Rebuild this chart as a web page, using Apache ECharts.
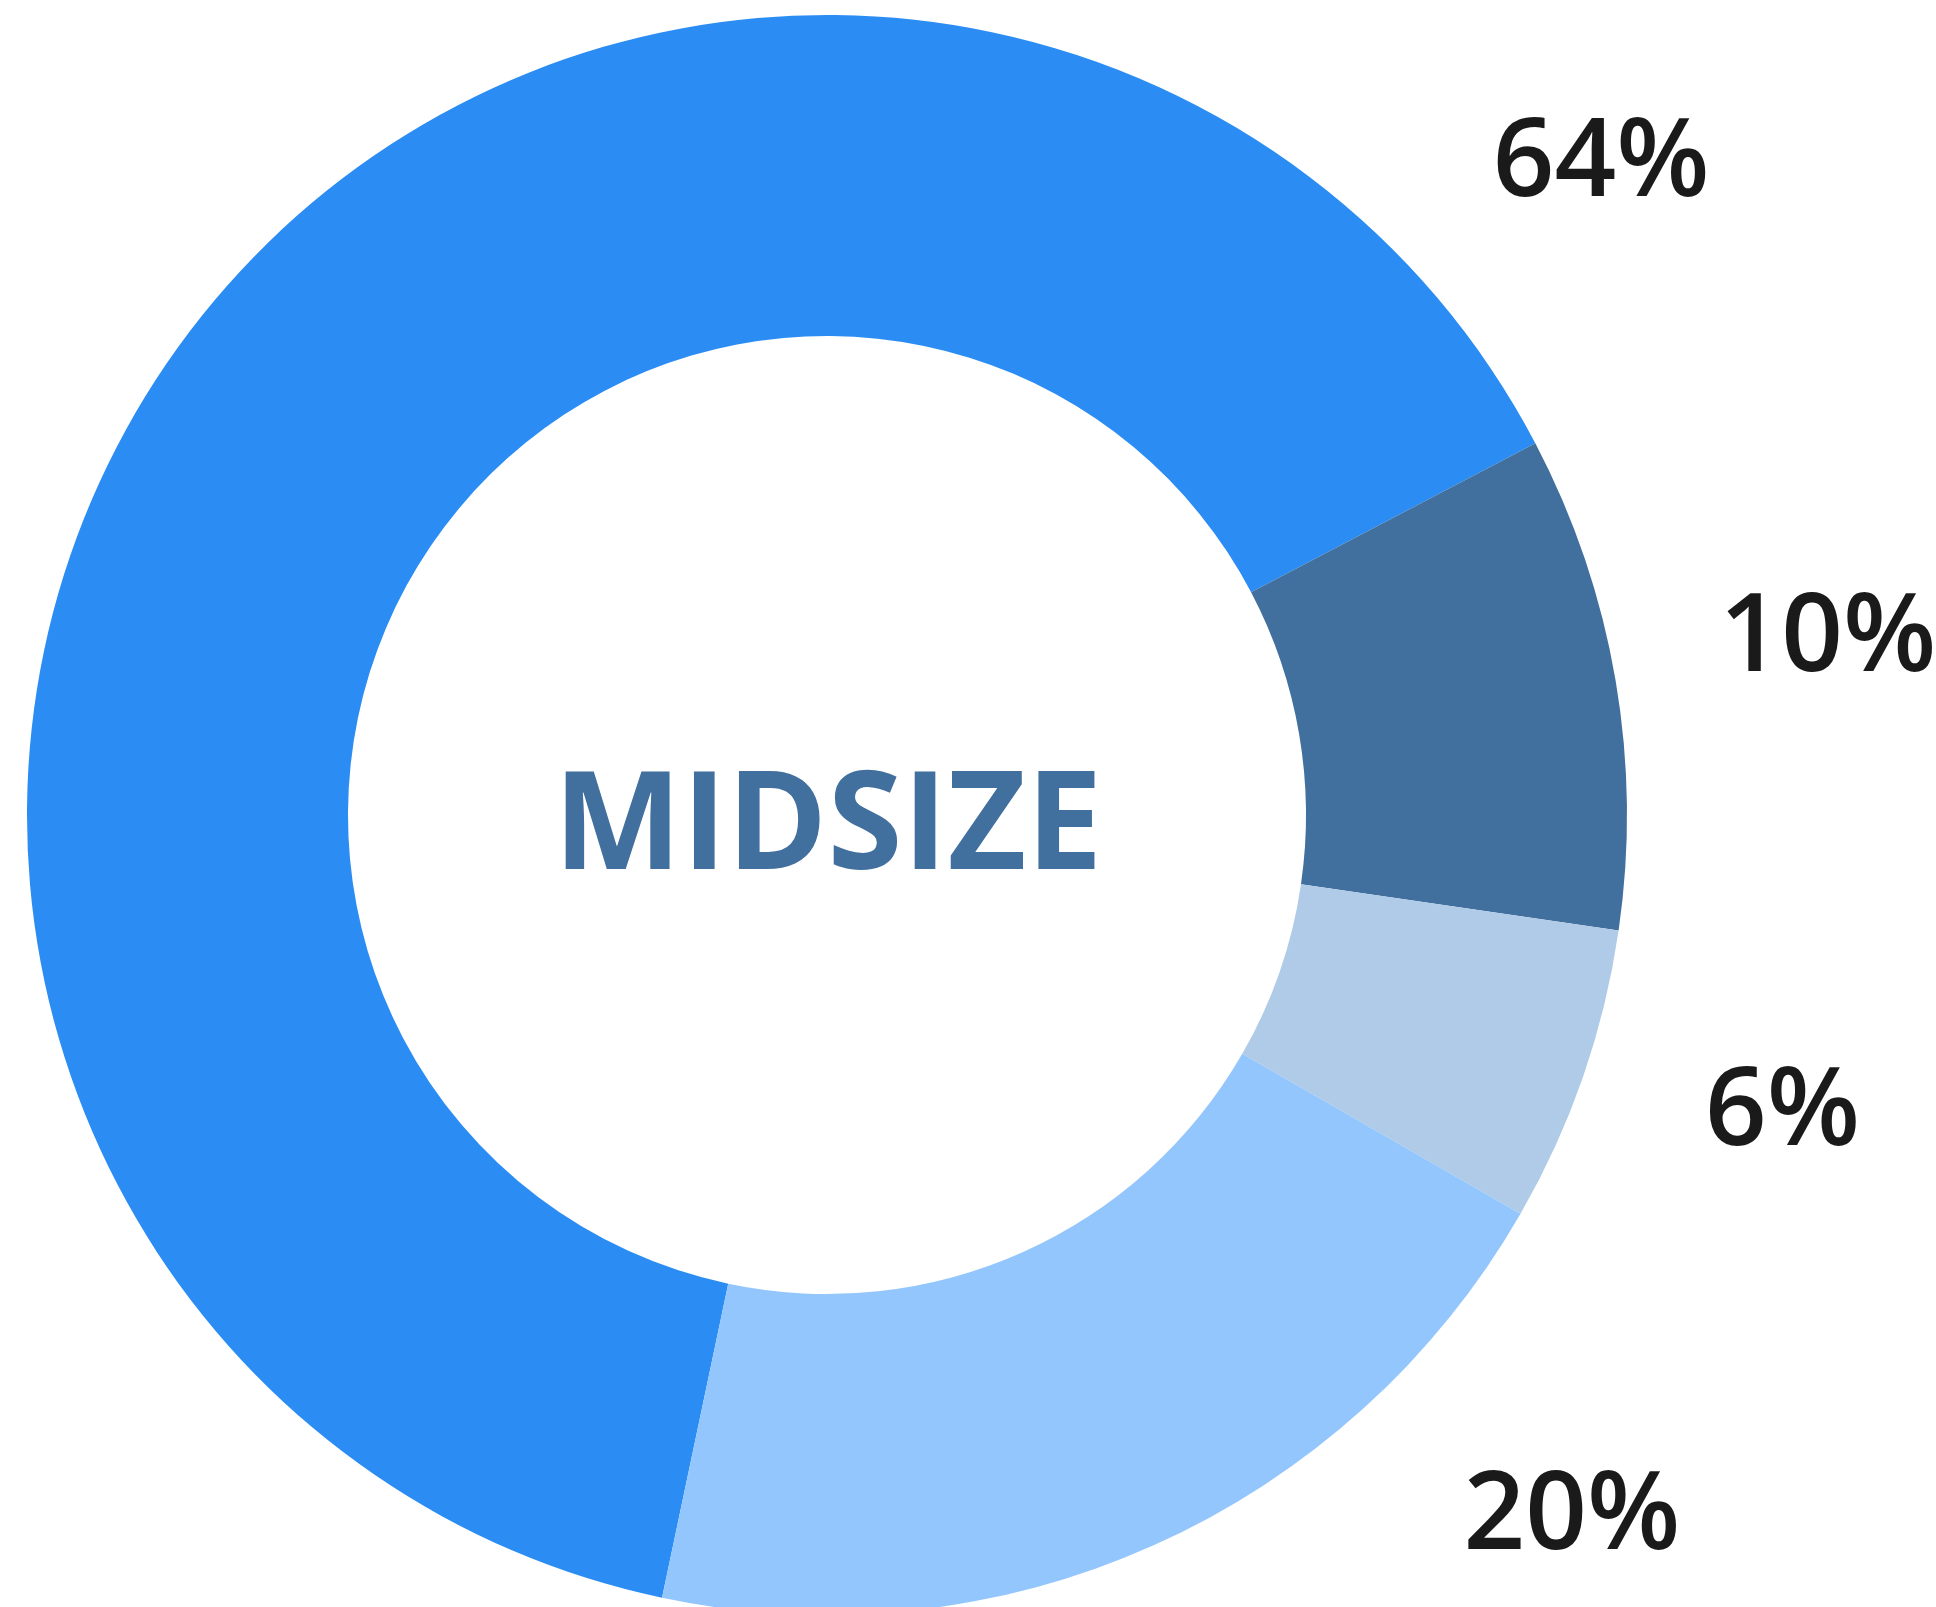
<!DOCTYPE html>
<html>
<head>
<meta charset="utf-8">
<style>
  html, body { margin: 0; padding: 0; background: #ffffff; }
  #chart { width: 1936px; height: 1607px; }
</style>
<script src="https://cdn.jsdelivr.net/npm/echarts@6/dist/echarts.min.js"></script>
</head>
<body>
<div id="chart"></div>
<script>
// ---- data ----
const categories = ['Segment A', 'Segment B', 'Segment C', 'Segment D'];
const values = [64, 10, 6, 20];
const centerLabel = 'MIDSIZE';

// ---- styling / layout ----
const sliceColors = ['#2B8DF3', '#416F9E', '#B0CBE8', '#93C6FD'];
const CX = 827, CY = 815, R_IN = 479, R_OUT = 800;
// label placement: polar (angle in degrees, radius in px) around the donut centre
const labelPolar = [
  { a: 40.5, r: 1018 },
  { a: 10.5, r: 1018 },
  { a: -16.8, r: 998 },
  { a: -42.9, r: 1017 }
];
const LABEL_DY = 11;

const chart = echarts.init(document.getElementById('chart'), null, { renderer: 'canvas' });

const option = {
  animation: false,
  backgroundColor: '#ffffff',
  graphic: [{
    type: 'text',
    x: 828,
    y: 830,
    style: {
      text: centerLabel,
      fill: '#416F9E',
      font: '700 136px "Open Sans"',
      align: 'center',
      verticalAlign: 'middle'
    }
  }],
  series: [{
    type: 'pie',
    silent: true,
    center: [CX, CY],
    radius: [R_IN, R_OUT],
    startAngle: 258.1,
    clockwise: true,
    avoidLabelOverlap: false,
    itemStyle: { borderWidth: 0 },
    label: {
      show: true,
      position: 'outside',
      formatter: '{c}%',
      color: '#1a1a1a',
      fontFamily: 'Open Sans',
      fontWeight: 600,
      fontSize: 108
    },
    labelLine: { show: false },
    labelLayout: function (params) {
      const p = labelPolar[params.dataIndex];
      const rad = p.a * Math.PI / 180;
      return {
        x: CX + p.r * Math.cos(rad),
        y: CY - p.r * Math.sin(rad) + LABEL_DY,
        align: 'center',
        verticalAlign: 'middle'
      };
    },
    data: categories.map((name, i) => ({
      name: name,
      value: values[i],
      itemStyle: { color: sliceColors[i] }
    }))
  }]
};

chart.setOption(option);
</script>
</body>
</html>
